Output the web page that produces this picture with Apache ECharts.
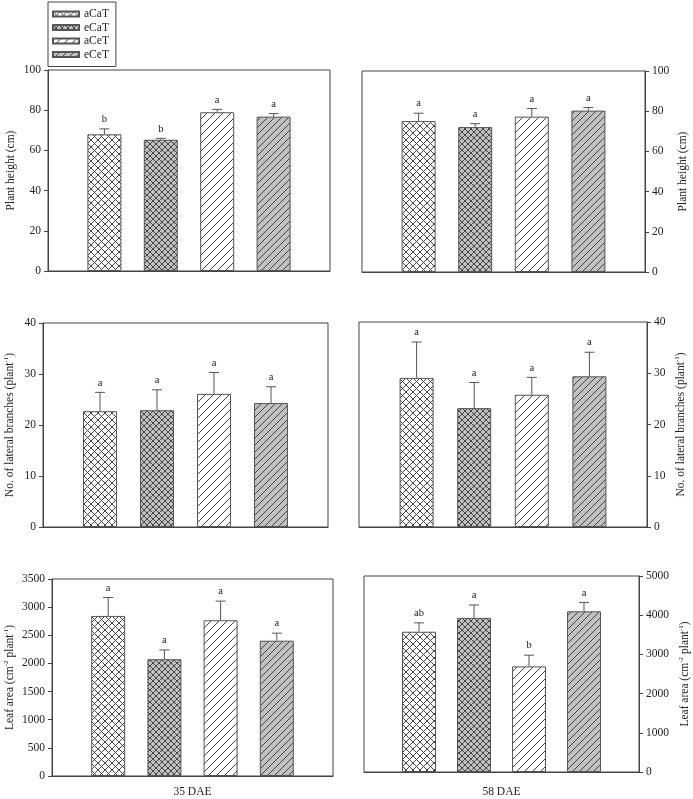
<!DOCTYPE html>
<html>
<head>
<meta charset="utf-8">
<script src="https://cdn.jsdelivr.net/npm/echarts@6/dist/echarts.min.js"></script>
<style>
  html, body { margin: 0; padding: 0; background: #fff; }
  #chart { width: 693px; height: 799px; }
</style>
</head>
<body>
<div id="chart"></div>
<script>
// ---- Data ----
const categories = ['aCaT', 'eCaT', 'aCeT', 'eCeT'];

const height35 = [68.0, 65.3, 79.0, 76.8];
const height35Err = [2.7, 0.7, 1.4, 1.5];
const height35Sig = ['b', 'b', 'a', 'a'];

const height58 = [75.1, 72.1, 77.3, 80.3];
const height58Err = [3.9, 1.7, 4.0, 1.5];
const height58Sig = ['a', 'a', 'a', 'a'];

const branches35 = [22.7, 22.9, 26.1, 24.3];
const branches35Err = [3.7, 4.0, 4.2, 3.2];
const branches35Sig = ['a', 'a', 'a', 'a'];

const branches58 = [29.1, 23.2, 25.8, 29.4];
const branches58Err = [7.0, 5.0, 3.4, 4.7];
const branches58Sig = ['a', 'a', 'a', 'a'];

const leaf35 = [2844, 2075, 2767, 2404];
const leaf35Err = [327, 164, 340, 134];
const leaf35Sig = ['a', 'a', 'a', 'a'];

const leaf58 = [3578, 3932, 2694, 4099];
const leaf58Err = [227, 328, 286, 227];
const leaf58Sig = ['ab', 'a', 'b', 'a'];

const xTitles = ['35 DAE', '58 DAE'];

// ---- Patterns ----
function makePattern(bg, kind, s, lineColor) {
  const c = document.createElement('canvas');
  c.width = s; c.height = s;
  const g = c.getContext('2d');
  g.fillStyle = bg; g.fillRect(0, 0, s, s);
  g.strokeStyle = lineColor; g.lineWidth = 1;
  g.beginPath();
  if (kind === 'cross') {
    g.moveTo(0, 0); g.lineTo(s, s);
    g.moveTo(s, 0); g.lineTo(0, s);
  } else {
    g.moveTo(0, s); g.lineTo(s, 0);
    g.moveTo(-1, 1); g.lineTo(1, -1);
    g.moveTo(s - 1, s + 1); g.lineTo(s + 1, s - 1);
  }
  g.stroke();
  return { image: c, repeat: 'repeat' };
}
const fills = [
  makePattern('#ffffff', 'cross', 7, '#444'),
  makePattern('#c0c0c0', 'cross', 6, '#444'),
  makePattern('#ffffff', 'diag', 8, '#444'),
  makePattern('#c0c0c0', 'diag', 7, '#444')
];

const FONT = '"Liberation Serif", "Times New Roman", serif';
const AXC = '#444';

const panels = [
  { grid: { left: 48, top: 70, width: 282, height: 201 }, pos: 'left', max: 100, interval: 20,
    name: 'Plant height (cm)', gap: 30, vals: height35, errs: height35Err, sig: height35Sig },
  { grid: { left: 362, top: 71, width: 283, height: 201 }, pos: 'right', max: 100, interval: 20,
    name: 'Plant height (cm)', gap: 31, vals: height58, errs: height58Err, sig: height58Sig },
  { grid: { left: 43, top: 323, width: 285, height: 204 }, pos: 'left', max: 40, interval: 10,
    name: 'No. of lateral branches (plant{sup|-1})', gap: 26, vals: branches35, errs: branches35Err, sig: branches35Sig },
  { grid: { left: 359, top: 322, width: 288, height: 205 }, pos: 'right', max: 40, interval: 10,
    name: 'No. of lateral branches (plant{sup|-1})', gap: 27, vals: branches58, errs: branches58Err, sig: branches58Sig },
  { grid: { left: 52, top: 579, width: 281, height: 199 }, pos: 'left', max: 3500, interval: 500,
    name: 'Leaf area (cm{sup|-2} plant{sup|-1})', gap: 35, vals: leaf35, errs: leaf35Err, sig: leaf35Sig, xname: xTitles[0], xgap: 10 },
  { grid: { left: 364, top: 576, width: 278, height: 198 }, pos: 'right', max: 5000, interval: 1000,
    name: 'Leaf area (cm{sup|-2} plant{sup|-1})', gap: 39, vals: leaf58, errs: leaf58Err, sig: leaf58Sig, xname: xTitles[1], xgap: 14 }
];

const xCats = [''].concat(categories).concat(['']);

const grids = [], xAxes = [], yAxes = [], series = [];
panels.forEach((p, pi) => {
  grids.push(Object.assign({ show: true, borderColor: AXC, borderWidth: 1, backgroundColor: 'transparent' }, p.grid));
  xAxes.push({
    type: 'category', gridIndex: pi, data: xCats, boundaryGap: false,
    axisLine: { show: true, lineStyle: { color: AXC, width: 1 } },
    axisTick: { show: false }, axisLabel: { show: false }, splitLine: { show: false },
    name: p.xname || '', nameLocation: 'middle', nameGap: p.xgap || 0,
    nameTextStyle: { fontFamily: FONT, fontSize: 11.5, color: '#222' }
  });
  yAxes.push({
    type: 'value', gridIndex: pi, position: p.pos, min: 0, max: p.max, interval: p.interval,
    axisLine: { show: true, lineStyle: { color: AXC, width: 1 } },
    axisTick: { show: true, inside: false, length: 4, lineStyle: { color: AXC } },
    axisLabel: { margin: 7, fontFamily: FONT, fontSize: 11.5, color: '#222', formatter: v => String(v) },
    splitLine: { show: false },
    name: p.name, nameLocation: 'middle', nameRotate: 90, nameGap: p.gap,
    nameTextStyle: {
      fontFamily: FONT, fontSize: 11.5, color: '#222', lineHeight: 14,
      rich: { sup: { fontFamily: FONT, fontSize: 7, color: '#222', verticalAlign: 'top', lineHeight: 7 } }
    }
  });
  categories.forEach((cat, ci) => {
    const d = xCats.map((_, k) => (k === ci + 1 ? p.vals[ci] : '-'));
    series.push({
      type: 'bar', name: cat, xAxisIndex: pi, yAxisIndex: pi, data: d,
      barWidth: 34, barGap: '-100%',
      itemStyle: { color: fills[ci], borderColor: '#555', borderWidth: 1 },
      emphasis: { disabled: true }, silent: true, animation: false
    });
  });
  const errData = categories.map((_, ci) => [ci + 1, p.vals[ci], p.errs[ci]]);
  const sig = p.sig;
  series.push({
    type: 'custom', xAxisIndex: pi, yAxisIndex: pi, data: errData, silent: true, animation: false,
    encode: { x: 0, y: 1 }, z: 5,
    renderItem: function (params, api) {
      const x = api.value(0), v = api.value(1), e = api.value(2);
      const p0 = api.coord([x, v]);
      const p1 = api.coord([x, v + e]);
      const style = { stroke: '#555', lineWidth: 1 };
      return {
        type: 'group',
        children: [
          { type: 'line', shape: { x1: p0[0], y1: p0[1], x2: p1[0], y2: p1[1] }, style: style },
          { type: 'line', shape: { x1: p1[0] - 5, y1: p1[1], x2: p1[0] + 5, y2: p1[1] }, style: style },
          { type: 'text', style: { text: sig[params.dataIndex], x: p1[0], y: p1[1] - 4,
              textAlign: 'center', textVerticalAlign: 'bottom', font: '10.5px ' + FONT, fill: '#222' } }
        ]
      };
    }
  });
});

const chart = echarts.init(document.getElementById('chart'), null, { renderer: 'canvas' });
chart.setOption({
  animation: false,
  backgroundColor: '#fff',
  grid: grids, xAxis: xAxes, yAxis: yAxes, series: series,
  legend: {
    data: categories, orient: 'vertical', left: 48, top: 2,
    borderColor: AXC, borderWidth: 1, padding: [6, 7, 6, 4],
    itemWidth: 26, itemHeight: 5, itemGap: 1.5, icon: 'rect', selectedMode: false,
    textStyle: { fontFamily: FONT, fontSize: 11.5, color: '#222' }
  }
});
</script>
</body>
</html>
